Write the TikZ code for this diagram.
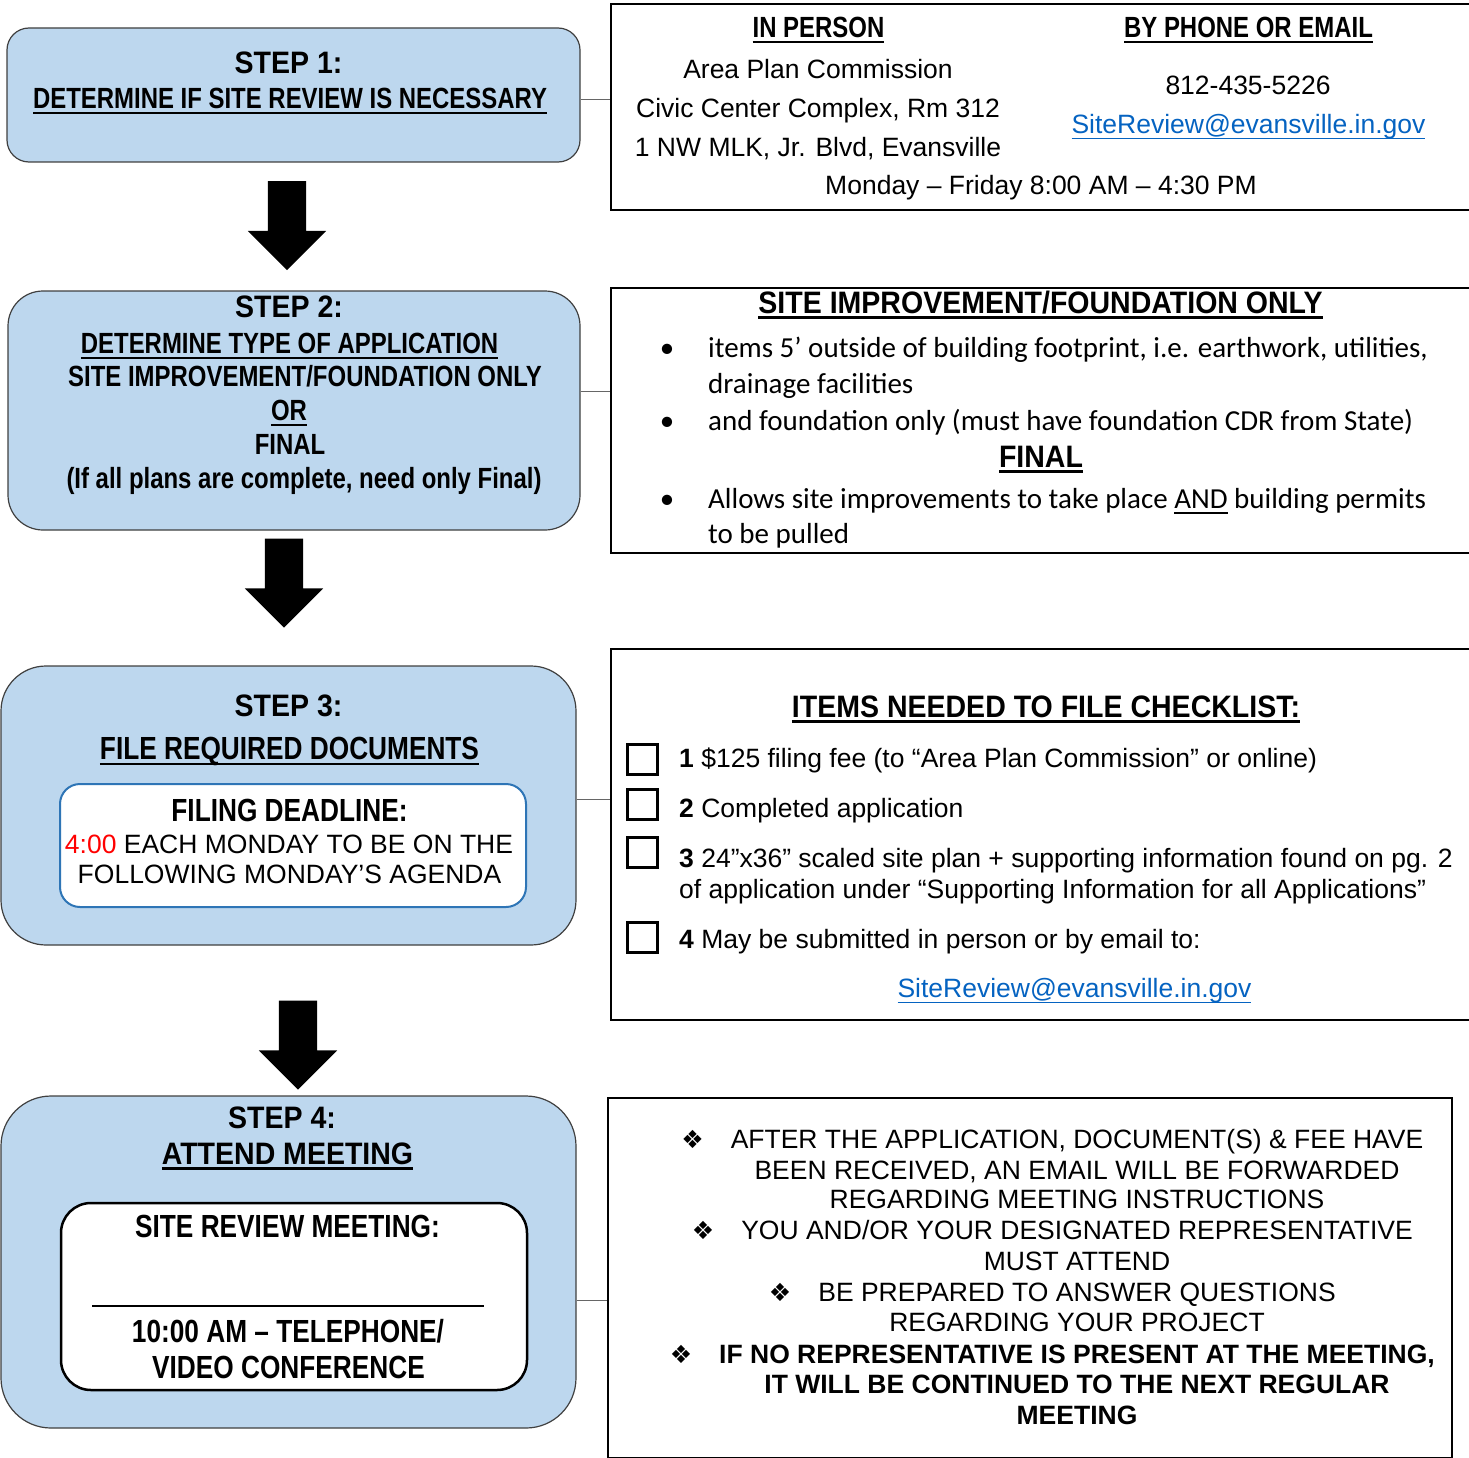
\documentclass[tikz,border=0pt]{standalone}
\usepackage{fontspec}
\setmainfont{Liberation Sans}
\newfontfamily\narrow[FakeStretch=0.82]{Liberation Sans}
\newfontfamily\semi[FakeStretch=0.92]{Liberation Sans}
\newfontfamily\calib{Carlito}
\newfontfamily\symb{DejaVu Sans}
\usetikzlibrary{shapes.arrows}
\definecolor{stepblue}{HTML}{BDD7EE}
\definecolor{deadblue}{HTML}{2E75B6}
\definecolor{linkblue}{HTML}{0563C1}
\newcommand{\undl}[2][2.5pt]{\setbox0\hbox{#2}\rlap{\rule[-5.5pt]{\wd0}{#1}}\box0\relax}
\newcommand{\hdfont}{\narrow\bfseries\fontsize{29.2}{34}\selectfont}
\newcommand{\hdbfont}{\narrow\bfseries\fontsize{32}{36}\selectfont}
\newcommand{\ttlfont}{\semi\bfseries\fontsize{31}{36}\selectfont}
\newcommand{\txtfont}{\fontsize{26.5}{31}\selectfont}
\newcommand{\calfont}{\calib\fontsize{29}{36}\selectfont}
\newcommand{\dia}{\llap{{\symb\fontsize{25}{25}\selectfont ❖}\hspace{27pt}}}
\newcommand{\bul}{\llap{•\hspace{34pt}}}
\begin{document}
\begin{tikzpicture}[x=1pt,y=-1pt,
stepbox/.style={draw=black!75,fill=stepblue,line width=1.2pt,inner sep=0pt},
innerbox/.style={fill=white,inner sep=0pt},
infobox/.style={draw,line width=2pt,anchor=north west,inner sep=0pt},
chkbox/.style={draw,line width=3pt,minimum size=30pt,inner sep=0pt},
bigarrow/.style={single arrow,fill=black,inner sep=19pt,single arrow head extend=20pt,minimum height=89pt,shape border rotate=270},
hd/.style={anchor=base,font=\hdfont,inner sep=0pt},
hdb/.style={anchor=base,font=\hdbfont,inner sep=0pt},
ttl/.style={anchor=base,font=\ttlfont,inner sep=0pt},
txt/.style={anchor=base,font=\txtfont,inner sep=0pt},
txtl/.style={anchor=base west,font=\txtfont,inner sep=0pt},
cal/.style={anchor=base west,font=\calfont,inner sep=0pt},
link/.style={txt,text=linkblue},
wire/.style={draw=black!60,line width=1pt}]
\useasboundingbox (0,0) rectangle (1469,1458);
\clip (0,0) rectangle (1469,1458);

% left column: the four steps
\node[stepbox,rounded corners=22pt,minimum width=573pt,minimum height=134pt] (s1) at (293.5,95) {};
\node[stepbox,rounded corners=35pt,minimum width=572pt,minimum height=239pt] (s2) at (294,410.5) {};
\node[stepbox,rounded corners=45pt,minimum width=575pt,minimum height=279pt] (s3) at (288.5,805.5) {};
\node[stepbox,rounded corners=50pt,minimum width=575pt,minimum height=332pt] (s4) at (288.5,1262) {};
\node[innerbox,draw=deadblue,line width=2pt,rounded corners=20pt,minimum width=466pt,minimum height=123pt] (dl) at (293,845.5) {};
\node[innerbox,draw=black,line width=2.5pt,rounded corners=30pt,minimum width=466pt,minimum height=187pt] (mt) at (294,1296.5) {};
\draw[line width=1.5pt] (92,1306) -- (484,1306);

\node[bigarrow] (a1) at (287,216) {};
\node[bigarrow] (a2) at (284,573.5) {};
\node[bigarrow] (a3) at (298,1035.5) {};

\node[ttl] (s1a) at (288.5,73.6) {STEP 1:};
\node[hd] (s1b) at (290,108.6) {\undl{DETERMINE IF SITE REVIEW IS NECESSARY}};

\node[ttl] (s2a) at (289,317.6) {STEP 2:};
\node[hd] (s2b) at (289.5,353.6) {\undl{DETERMINE TYPE OF APPLICATION}};
\node[hd] (s2c) at (305,386.6) {SITE IMPROVEMENT/FOUNDATION ONLY};
\node[hd] (s2d) at (289,420.6) {\undl{OR}};
\node[hd] (s2e) at (290,454.6) {FINAL};
\node[hd] (s2f) at (304,488.6) {(If all plans are complete, need only Final)};

\node[ttl] (s3a) at (288.5,716) {STEP 3:};
\node[hdb] (s3b) at (289.5,759.5) {\undl{FILE REQUIRED DOCUMENTS}};
\node[hdb] (s3c) at (289.5,821.5) {FILING DEADLINE:};
\node[txt] (s3d) at (289,853.5) {\textcolor{red}{4:00} EACH MONDAY TO BE ON THE};
\node[txt] (s3e) at (289.5,883.5) {FOLLOWING MONDAY’S AGENDA};

\node[ttl] (s4a) at (282,1128) {STEP 4:};
\node[ttl] (s4b) at (287.5,1164) {\undl{ATTEND MEETING}};
\node[hdb] (s4c) at (287.5,1237.5) {SITE REVIEW MEETING:};
\node[hdb] (s4d) at (288,1342.5) {10:00 AM – TELEPHONE/};
\node[hdb] (s4e) at (288.5,1378.5) {VIDEO CONFERENCE};

% right column: details
\node[infobox,minimum width=880pt,minimum height=206pt] (r1) at (610,3) {};
\node[infobox,minimum width=880pt,minimum height=265pt] (r2) at (610,287) {};
\node[infobox,minimum width=880pt,minimum height=371pt] (r3) at (610,648) {};
\node[infobox,minimum width=844pt,minimum height=360pt] (r4) at (607,1097) {};

\draw[wire] ([yshift=-5pt]s1.east) -- ([yshift=-5pt]s1.east -| r1.west);
\draw[wire] ([yshift=19.5pt]s2.east) -- ([yshift=19.5pt]s2.east -| r2.west);
\draw[wire] ([yshift=6.5pt]s3.east) -- ([yshift=6.5pt]s3.east -| r3.west);
\draw[wire] ([yshift=-38pt]s4.east) -- ([yshift=-38pt]s4.east -| r4.west);

\node[hd] (p1) at (818.5,37.6) {\undl{IN PERSON}};
\node[hd] (p2) at (1248.5,37.6) {\undl{BY PHONE OR EMAIL}};
\node[txt] (p3) at (818,79) {Area Plan Commission};
\node[txt] (p4) at (818,118) {Civic Center Complex, Rm 312};
\node[txt] (p5) at (818,157) {1 NW MLK, Jr. Blvd, Evansville};
\node[txt] (p6) at (1248,95) {812-435-5226};
\node[link] (p7) at (1248.5,134) {\undl[1.5pt]{SiteReview@evansville.in.gov}};
\node[txt] (p8) at (1041,194) {Monday – Friday 8:00 AM – 4:30 PM};

\node[ttl] (f1) at (1040.5,313) {\undl{SITE IMPROVEMENT/FOUNDATION ONLY}};
\node[cal] (f2) at (708,357) {\bul items 5’ outside of building footprint, i.e. earthwork, utilities,};
\node[cal] (f3) at (708,393) {drainage facilities};
\node[cal] (f4) at (708,430) {\bul and foundation only (must have foundation CDR from State)};
\node[ttl] (f5) at (1041,467) {\undl{FINAL}};
\node[cal] (f6) at (708,508) {\bul Allows site improvements to take place \undl[1.5pt]{AND} building permits};
\node[cal] (f7) at (708,543) {to be pulled};

\node[ttl] (k0) at (1046,717) {\undl{ITEMS NEEDED TO FILE CHECKLIST:}};
\node[chkbox] (c1) at (642.5,759.5) {};
\node[chkbox] (c2) at (642.5,804.5) {};
\node[chkbox] (c3) at (642.5,852.5) {};
\node[chkbox] (c4) at (642.5,937) {};
\node[txtl] (k1) at (679,767.5) {\textbf{1} \$125 filing fee (to “Area Plan Commission” or online)};
\node[txtl] (k2) at (679,817.5) {\textbf{2} Completed application};
\node[txtl] (k3) at (679,867.5) {\textbf{3} 24”x36” scaled site plan + supporting information found on pg. 2};
\node[txtl] (k4) at (679,898.5) {of application under “Supporting Information for all Applications”};
\node[txtl] (k5) at (679,948.5) {\textbf{4} May be submitted in person or by email to:};
\node[link] (k6) at (1074.5,997.5) {\undl[1.5pt]{SiteReview@evansville.in.gov}};

\node[txt] (m1) at (1077,1148) {\dia AFTER THE APPLICATION, DOCUMENT(S) \& FEE HAVE};
\node[txt] (m2) at (1077,1179) {BEEN RECEIVED, AN EMAIL WILL BE FORWARDED};
\node[txt] (m3) at (1077,1208) {REGARDING MEETING INSTRUCTIONS};
\node[txt] (m4) at (1077,1239) {\dia YOU AND/OR YOUR DESIGNATED REPRESENTATIVE};
\node[txt] (m5) at (1077,1270.5) {MUST ATTEND};
\node[txt] (m6) at (1077,1301.5) {\dia BE PREPARED TO ANSWER QUESTIONS};
\node[txt] (m7) at (1077,1331.5) {REGARDING YOUR PROJECT};
\node[txt,font=\txtfont\bfseries] (m8) at (1077,1363.5) {\dia IF NO REPRESENTATIVE IS PRESENT AT THE MEETING,};
\node[txt,font=\txtfont\bfseries] (m9) at (1077,1393.5) {IT WILL BE CONTINUED TO THE NEXT REGULAR};
\node[txt,font=\txtfont\bfseries] (m10) at (1077,1424) {MEETING};
\end{tikzpicture}
\end{document}
